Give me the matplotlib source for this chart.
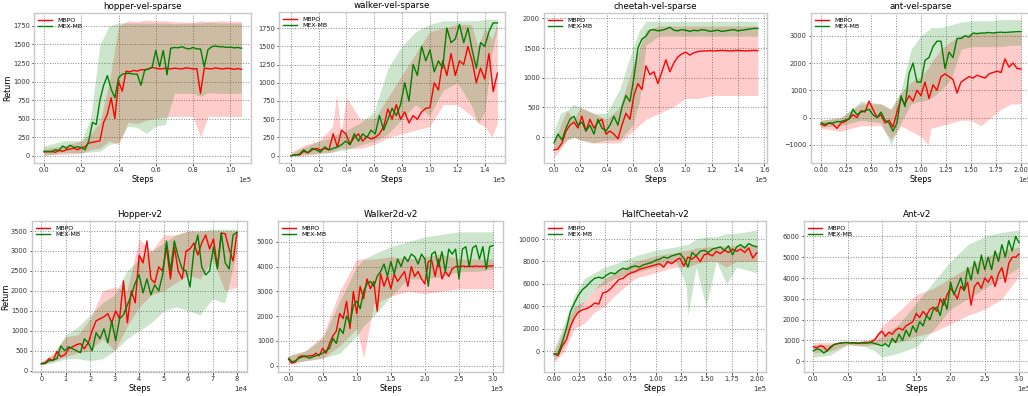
import matplotlib
matplotlib.use("Agg")
import matplotlib.pyplot as plt
import numpy as np

# ---------------- hopper-vel-sparse (x in 1e5 steps) ----------------
hvs_x = np.linspace(0, 1.06, 54)
hvs_mbpo = [50, 55, 60, 45, 70, 60, 80, 90, 100, 80, 110, 120, 170, 180, 190, 200, 450, 560, 780, 500,
            1000, 870, 1140, 1130, 1150, 1140, 1160, 1160, 1170, 1190, 1180, 1170, 1175, 1180, 1170, 1180,
            1175, 1170, 1185, 1180, 1170, 1175, 840, 1180, 1175, 1170, 1185, 1175, 1170, 1180, 1175, 1165,
            1175, 1165]
hvs_mex = [60, 55, 50, 80, 70, 130, 100, 140, 110, 120, 110, 80, 200, 450, 420, 750, 950, 1080, 900, 780,
           1050, 1100, 1110, 1110, 1100, 1100, 950, 1150, 1170, 1190, 1420, 1200, 1420, 1090, 1450, 1460,
           1455, 1470, 1450, 1440, 1460, 1440, 1440, 1200, 1430, 1470, 1480, 1470, 1470, 1460, 1465, 1455,
           1460, 1450]
hvs_bx = [0, .1, .2, .25, .3, .35, .4, .45, .5, .55, .6, .65, .7, .8, .84, .88, .95, 1.06]
hvs_mbpo_lo = [10, 20, 30, 80, 100, 200, 150, 450, 430, 480, 500, 520, 530, 530, 250, 530, 530, 530]
hvs_mbpo_hi = [100, 130, 200, 300, 450, 1000, 1750, 1820, 1810, 1830, 1820, 1820, 1810, 1800, 1820, 1810, 1820, 1810]
hvs_mex_lo = [0, 40, 40, 50, 60, 150, 180, 400, 380, 300, 400, 420, 840, 840, 800, 850, 840, 840]
hvs_mex_hi = [130, 200, 200, 500, 1500, 1750, 1790, 1790, 1790, 1790, 1790, 1790, 1780, 1790, 1790, 1800, 1790, 1790]

# ---------------- walker-vel-sparse ----------------
wvs_x = np.linspace(0, 1.49, 50)
wvs_mbpo = [0, 10, 10, 60, 40, 80, 100, 80, 100, 80, 300, 120, 350, 300, 160, 250, 300, 200, 260, 230,
            250, 300, 400, 640, 500, 700, 500, 600, 450, 550, 500, 600, 650, 660, 1000, 900, 1300, 1100,
            1400, 1100, 1300, 1250, 1500, 1300, 1000, 1200, 1050, 1400, 880, 1130]
wvs_mex = [0, 10, 20, 80, 40, 100, 80, 50, 120, 80, 100, 120, 150, 200, 150, 300, 200, 300, 250, 350,
           300, 550, 350, 500, 650, 550, 700, 1000, 750, 1250, 1100, 1500, 1300, 1450, 1150, 1300, 1200,
           1750, 1550, 1600, 1800, 1550, 1750, 1450, 1200, 1550, 1500, 1700, 1820, 1820]
wvs_bx = [0, .1, .2, .3, .33, .36, .4, .5, .6, .7, .8, .9, 1.0, 1.1, 1.2, 1.3, 1.35, 1.4, 1.45, 1.49]
wvs_mbpo_lo = [0, 0, 30, 50, 80, 100, 100, 100, 150, 250, 300, 350, 400, 700, 700, 550, 450, 400, 250, 450]
wvs_mbpo_hi = [50, 150, 200, 400, 850, 300, 800, 500, 500, 800, 1100, 1400, 1700, 1750, 1800, 1800, 1500, 1750, 1600, 1800]
wvs_mex_lo = [0, 20, 30, 50, 60, 70, 80, 150, 200, 300, 500, 700, 550, 900, 1000, 700, 450, 600, 1400, 1750]
wvs_mex_hi = [30, 120, 200, 250, 300, 320, 350, 450, 600, 1200, 1500, 1700, 1800, 1850, 1850, 1850, 1850, 1870, 1870, 1870]

# ---------------- cheetah-vel-sparse ----------------
cvs_x = np.linspace(0, 1.55, 52)
cvs_mbpo = [-220, -200, -100, 100, 200, 250, 150, 350, 100, 300, 150, 250, 300, 50, 100, 50, -30, 200,
            400, 300, 700, 900, 800, 1200, 1050, 1100, 900, 1100, 1300, 1100, 1250, 1350, 1400, 1430,
            1380, 1420, 1440, 1450, 1450, 1455, 1450, 1455, 1460, 1455, 1450, 1455, 1460, 1455, 1450,
            1455, 1460, 1455]
cvs_mex = [-100, 50, -50, 150, 300, 350, 200, 250, 100, 200, 50, 300, 150, 100, 200, 350, 200, 500, 700,
           600, 1000, 1500, 1650, 1700, 1800, 1810, 1790, 1800, 1820, 1850, 1800, 1790, 1810, 1800, 1780,
           1800, 1790, 1810, 1800, 1780, 1790, 1800, 1780, 1790, 1800, 1810, 1790, 1800, 1810, 1820,
           1830, 1830]
cvs_bx = [0, .05, .1, .15, .2, .3, .4, .5, .6, .65, .7, .8, .9, 1.0, 1.1, 1.2, 1.3, 1.4, 1.55]
cvs_mbpo_lo = [-350, -200, -50, 0, -50, -100, -100, -100, 100, 200, 300, 400, 500, 650, 650, 700, 700, 700, 700]
cvs_mbpo_hi = [-100, 200, 450, 300, 500, 400, 300, 500, 1200, 1500, 1800, 1870, 1870, 1870, 1870, 1870, 1870, 1870, 1870]
cvs_mex_lo = [-200, -150, -50, 0, -50, -100, -50, -50, 200, 600, 1550, 1700, 1700, 1700, 1700, 1700, 1700, 1700, 1700]
cvs_mex_hi = [100, 400, 450, 550, 500, 400, 400, 800, 1500, 1800, 1950, 1950, 1950, 1950, 1950, 1950, 1950, 1950, 1950]

# ---------------- ant-vel-sparse ----------------
avs_x = np.linspace(0, 2.0, 51)
avs_mbpo = [-250, -300, -200, -250, -400, -200, -150, -50, 100, 0, 250, 200, 600, 300, 0, 100, -200,
            -100, -350, 200, 700, 500, 800, 600, 1000, 800, 1300, 700, 1200, 1000, 1500, 1600, 1500,
            1400, 900, 1300, 1400, 1500, 1450, 1550, 1500, 1450, 1600, 1650, 1700, 1650, 2150, 1850,
            2000, 1800, 1780]
avs_mex = [-200, -250, -200, -200, -150, -150, -100, -50, 300, 100, 200, 250, 300, 100, 0, 200, -100,
           -200, -500, -200, 800, 400, 1600, 2000, 1300, 1300, 2100, 2200, 2600, 2800, 2800, 1800, 2400,
           2200, 2900, 2900, 3000, 2950, 3100, 3080, 3100, 3100, 3120, 3100, 3120, 3130, 3120, 3130,
           3140, 3150, 3150]
avs_bx = [0, .2, .4, .6, .7, .8, .9, 1.0, 1.07, 1.1, 1.2, 1.3, 1.4, 1.5, 1.6, 1.7, 1.8, 1.9, 2.0]
avs_mbpo_lo = [-400, -500, -300, -300, -800, -300, -500, -700, -1000, -400, -300, -200, -100, -100, -300, 0, 300, 500, 500]
avs_mbpo_hi = [-100, 0, 500, 500, 300, 900, 1300, 1500, 1800, 2000, 2500, 2800, 3000, 3100, 3100, 3100, 3100, 3100, 3100]
avs_mex_lo = [-350, -300, -100, -200, -1000, -200, 500, 600, 650, 700, 1000, 1400, 2500, 2600, 2600, 2600, 2600, 2650, 2650]
avs_mex_hi = [-100, 0, 600, 500, 300, 1000, 2500, 3000, 3200, 3300, 3300, 3400, 3500, 3550, 3550, 3550, 3600, 3600, 3600]

# ---------------- Hopper-v2 (x in 1e4 steps) ----------------
hop_x = np.linspace(0, 8.0, 51)
hop_mbpo = [180, 200, 300, 250, 480, 350, 400, 550, 600, 650, 680, 550, 700, 1000, 1250, 1300, 1350,
            1430, 1200, 1500, 1300, 2250, 1200, 2000, 1700, 2900, 2700, 3250, 2300, 2200, 2600, 2500,
            3100, 2300, 3100, 2500, 2300, 3000, 3050, 3200, 2900, 3200, 3400, 3050, 3300, 2600, 3450,
            3430, 3050, 2750, 3450]
hop_mex = [170, 180, 250, 270, 300, 620, 500, 600, 550, 500, 450, 800, 700, 500, 950, 800, 1050, 700,
           1250, 750, 1300, 1400, 1650, 1900, 2200, 2400, 1950, 2300, 1900, 2150, 2000, 2400, 3250, 2500,
           3250, 2850, 2550, 2500, 2100, 3000, 3400, 2600, 2400, 2500, 3100, 2550, 3450, 2700, 2550,
           3400, 3470]
hop_bx = [0, .5, 1, 1.5, 2, 2.5, 3, 3.5, 4, 4.5, 5, 5.5, 6, 6.5, 7, 7.5, 8]
hop_mbpo_lo = [150, 250, 350, 450, 500, 800, 500, 1100, 1600, 1900, 2000, 2200, 2400, 2300, 2800, 2000, 2100]
hop_mbpo_hi = [220, 450, 850, 900, 1300, 2000, 2100, 2000, 3300, 3000, 3400, 3400, 3500, 3500, 3500, 3500, 3500]
hop_mex_lo = [150, 200, 300, 300, 250, 300, 500, 800, 1000, 1200, 1500, 1600, 1500, 1400, 1800, 1700, 3000]
hop_mex_hi = [200, 400, 900, 1100, 1400, 1700, 1900, 2500, 2800, 3000, 3200, 3400, 3500, 3500, 3550, 3550, 3550]

# ---------------- Walker2d-v2 (x in 1e5 steps) ----------------
wlk_x = np.linspace(0, 3.0, 61)
wlk_mbpo = [250, 100, 150, 350, 400, 350, 400, 400, 500, 400, 700, 500, 900, 1200, 1400, 2100, 1900,
            2600, 1500, 3000, 2100, 3200, 2700, 3500, 3100, 3400, 2200, 3700, 3200, 3600, 3100, 3700,
            3400, 3600, 3800, 3200, 4000, 3600, 3800, 3500, 3300, 4200, 4250, 3600, 4300, 3500, 3800,
            3600, 3900, 4000, 4000, 4020, 4000, 4010, 4000, 4020, 4000, 4010, 4000, 4020, 4030]
wlk_mex = [300, 150, 200, 300, 350, 400, 300, 350, 400, 450, 500, 600, 700, 1100, 900, 1500, 1300, 2000,
           1700, 2400, 2600, 2300, 3000, 3300, 3400, 3200, 3600, 3800, 4100, 3600, 4200, 3700, 4300,
           4000, 4400, 4200, 4500, 4400, 4100, 4500, 4300, 3200, 4500, 4600, 4000, 4600, 3800, 4700,
           4500, 4700, 3500, 4700, 4800, 4000, 4750, 4850, 4300, 4800, 3900, 4800, 4850]
wlk_bx = [0, .25, .5, .75, 1.0, 1.1, 1.25, 1.5, 1.75, 2.0, 2.25, 2.5, 2.75, 3.0]
wlk_mbpo_lo = [50, 200, 300, 800, 1500, 300, 2500, 2800, 3000, 2900, 3000, 3100, 3100, 3100]
wlk_mbpo_hi = [400, 600, 1200, 3000, 4300, 4300, 4300, 4400, 4300, 4400, 4500, 4300, 4300, 4300]
wlk_mex_lo = [100, 200, 300, 500, 1200, 1600, 2000, 2800, 3500, 3500, 3600, 3800, 3800, 3900]
wlk_mex_hi = [400, 600, 1100, 2600, 4000, 4300, 4500, 4800, 5000, 5200, 5300, 5400, 5400, 5400]

# ---------------- HalfCheetah-v2 ----------------
hc_x = np.linspace(0, 2.0, 51)
hc_mbpo = [-200, -400, 500, 1000, 2200, 3000, 3500, 3700, 3800, 4000, 4300, 4200, 5200, 5300, 5600,
           6000, 6400, 6500, 6800, 7000, 7100, 7300, 7400, 7500, 7600, 7700, 7800, 7500, 8000, 7800,
           8100, 8300, 7600, 8400, 8200, 8500, 8000, 8600, 8700, 8500, 8900, 8700, 9000, 8800, 9100,
           8900, 9100, 8800, 9200, 8300, 8800]
hc_mex = [-300, -200, 800, 2000, 3500, 4300, 5000, 5500, 5800, 6200, 6500, 6600, 6500, 6800, 7000,
          6900, 7200, 7400, 7300, 7500, 7600, 7500, 7700, 7800, 7900, 8100, 8200, 8400, 8300, 8500,
          8600, 8700, 8300, 7500, 8800, 8500, 8900, 9000, 8800, 9100, 9200, 9300, 9000, 9400, 8600,
          9300, 9500, 9200, 9600, 9400, 9300]
hc_bx = [0, .1, .2, .3, .4, .5, .6, .8, 1.0, 1.2, 1.3, 1.32, 1.4, 1.5, 1.6, 1.7, 1.8, 2.0]
hc_mbpo_lo = [-1000, 0, 2000, 2500, 3500, 4000, 5000, 6500, 7000, 7500, 7500, 7500, 7800, 8000, 8000, 7500, 8000, 8000]
hc_mbpo_hi = [0, 2000, 4000, 4500, 5500, 6500, 7000, 8000, 8500, 8800, 9000, 9000, 9200, 9300, 9300, 9400, 9400, 9500]
hc_mex_lo = [-800, 500, 3000, 4500, 5500, 6000, 6500, 7000, 7500, 8000, 6000, 3200, 7500, 4000, 8000, 6000, 7500, 7000]
hc_mex_hi = [200, 2500, 5000, 6500, 7000, 7500, 7800, 8500, 9000, 9300, 9500, 9500, 10000, 10200, 10200, 10500, 10500, 10800]

# ---------------- Ant-v2 ----------------
ant_x = np.linspace(0, 3.0, 61)
ant_mbpo = [700, 650, 750, 700, 500, 700, 800, 850, 880, 900, 900, 880, 900, 870, 900, 920, 900, 950,
            1050, 1300, 1450, 1200, 1400, 1300, 1500, 1600, 1500, 1700, 1800, 1900, 2300, 2100, 2400,
            2200, 2500, 2600, 2400, 3000, 2700, 3200, 3500, 3300, 3000, 3600, 3400, 3800, 2700, 3600,
            3800, 3500, 4000, 3800, 4100, 3600, 4200, 4500, 3800, 4700, 5000, 5000, 5150]
ant_mex = [500, 600, 550, 400, 500, 650, 800, 850, 880, 900, 900, 880, 880, 860, 880, 870, 880, 900,
           850, 800, 750, 850, 700, 1100, 900, 1300, 1000, 1500, 1200, 1700, 1400, 1900, 1700, 2200,
           2000, 2500, 2600, 2200, 3000, 2500, 3800, 3200, 3600, 4000, 3400, 4500, 3900, 4800, 4200,
           5100, 4400, 5000, 4400, 5300, 4800, 5600, 5000, 5800, 5300, 6000, 5700]
ant_bx = [0, .25, .5, .75, .9, 1.0, 1.25, 1.5, 1.75, 2.0, 2.25, 2.5, 2.75, 3.0]
ant_mbpo_lo = [400, 500, 800, 750, 800, 900, 900, 1200, 1400, 1800, 2200, 2500, 3000, 4100]
ant_mbpo_hi = [900, 900, 950, 950, 1200, 1700, 2400, 3200, 3500, 4000, 4500, 5000, 5300, 5500]
ant_mex_lo = [200, 300, 800, 700, 500, 200, 400, 700, 1500, 2500, 3000, 3500, 4000, 4500]
ant_mex_hi = [800, 800, 950, 950, 1000, 1200, 1800, 2800, 3800, 4800, 5600, 6000, 6200, 6300]

titles = ["hopper-vel-sparse", "walker-vel-sparse", "cheetah-vel-sparse", "ant-vel-sparse",
          "Hopper-v2", "Walker2d-v2", "HalfCheetah-v2", "Ant-v2"]

panels = [
    (hvs_x, hvs_mbpo, hvs_mex, hvs_bx, hvs_mbpo_lo, hvs_mbpo_hi, hvs_mex_lo, hvs_mex_hi, 1e5),
    (wvs_x, wvs_mbpo, wvs_mex, wvs_bx, wvs_mbpo_lo, wvs_mbpo_hi, wvs_mex_lo, wvs_mex_hi, 1e5),
    (cvs_x, cvs_mbpo, cvs_mex, cvs_bx, cvs_mbpo_lo, cvs_mbpo_hi, cvs_mex_lo, cvs_mex_hi, 1e5),
    (avs_x, avs_mbpo, avs_mex, avs_bx, avs_mbpo_lo, avs_mbpo_hi, avs_mex_lo, avs_mex_hi, 1e5),
    (hop_x, hop_mbpo, hop_mex, hop_bx, hop_mbpo_lo, hop_mbpo_hi, hop_mex_lo, hop_mex_hi, 1e4),
    (wlk_x, wlk_mbpo, wlk_mex, wlk_bx, wlk_mbpo_lo, wlk_mbpo_hi, wlk_mex_lo, wlk_mex_hi, 1e5),
    (hc_x, hc_mbpo, hc_mex, hc_bx, hc_mbpo_lo, hc_mbpo_hi, hc_mex_lo, hc_mex_hi, 1e5),
    (ant_x, ant_mbpo, ant_mex, ant_bx, ant_mbpo_lo, ant_mbpo_hi, ant_mex_lo, ant_mex_hi, 1e5),
]

# axes boxes in pixels (left, right, top, bottom) and limits
W, H = 1028, 396
boxes = [(34, 251, 13, 163), (279, 505, 12, 163), (544, 767, 13, 163), (811, 1031, 13, 163),
         (32, 247, 221, 372), (278, 503, 221, 372), (544, 766, 221, 372), (804, 1030, 221, 372)]
xlims = [(-0.054, 1.111), (-0.087, 1.545), (-0.076, 1.62), (-0.1, 2.1),
         (-0.38, 8.41), (-0.156, 3.146), (-0.1, 2.09), (-0.137, 3.16)]
ylims = [(-99, 1925), (-100, 1970), (-438, 2090), (-1669, 3835),
         (-33, 3751), (-256, 5836), (-1845, 11607), (-513, 6738)]

fig = plt.figure(figsize=(W / 100, H / 100), dpi=100)

for i, (x, m1, m2, bx, lo1, hi1, lo2, hi2, sc) in enumerate(panels):
    l, r, t, b = boxes[i]
    ax = fig.add_axes([l / W, 1 - b / H, (r - l) / W, (b - t) / H])
    x = np.asarray(x) * sc
    bx = np.asarray(bx) * sc
    ax.fill_between(bx, lo1, hi1, color="red", alpha=0.2, linewidth=0)
    ax.fill_between(bx, lo2, hi2, color="green", alpha=0.2, linewidth=0)
    ax.plot(x, m1, color="red", lw=1.0, label="MBPO")
    ax.plot(x, m2, color="green", lw=1.0, label="MEX-MB")
    ax.set_xlim(xlims[i][0] * sc, xlims[i][1] * sc)
    ax.set_ylim(*ylims[i])
    ax.ticklabel_format(axis="x", style="sci", scilimits=(0, 0))
    ax.set_title(titles[i], fontsize=6.3, pad=3)
    ax.set_xlabel("Steps", fontsize=5.8, labelpad=1)
    if i % 4 == 0:
        ax.set_ylabel("Return", fontsize=5.8, labelpad=0.5)
    ax.grid(True, linestyle=":", color="#888888", linewidth=0.7)
    ax.set_axisbelow(True)
    ax.tick_params(direction="out", labelsize=4.8, length=1.8, width=0.6, pad=1.2,
                   color="#222222", labelcolor="#333333")
    ax.xaxis.get_offset_text().set_fontsize(5)
    for s in ax.spines.values():
        s.set_color("#c8c8c8")
        s.set_linewidth(1.0)
    ax.legend(loc="upper left", fontsize=4.5, frameon=False, handlelength=2.2,
              borderaxespad=0.3, labelspacing=0.2)

fig.savefig("out.png", dpi=100)
